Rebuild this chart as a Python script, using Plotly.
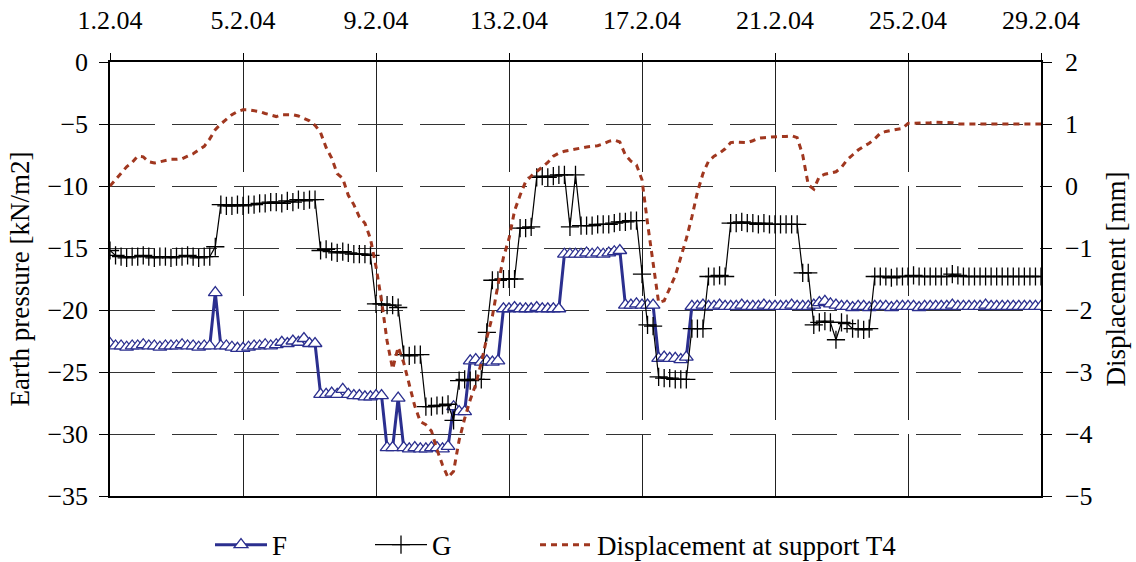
import pandas as pd
import plotly.graph_objects as go

# 4-hourly readings, 1.2.2004 00:00 ... 29.2.2004 00:00
times = pd.date_range("2004-02-01", periods=169, freq="4h")

tick_dates = ["2004-02-01", "2004-02-05", "2004-02-09", "2004-02-13",
              "2004-02-17", "2004-02-21", "2004-02-25", "2004-02-29"]
tick_labels = ["1.2.04", "5.2.04", "9.2.04", "13.2.04",
               "17.2.04", "21.2.04", "25.2.04", "29.2.04"]

F = [-22.7, -22.9, -22.9, -23.0, -22.9, -22.9, -22.8, -22.9, -22.9, -23.0,
     -22.9, -22.9, -22.9, -22.8, -22.9, -22.9, -23.0, -22.9, -22.9, -18.6,
     -22.9, -22.9, -23.0, -23.1, -23.1, -23.0, -22.9, -22.9, -22.8, -22.9,
     -22.8, -22.6, -22.7, -22.5, -22.6, -22.3, -22.7, -22.7,
     -26.8, -26.8, -26.7, -26.8, -26.4, -26.8, -26.9, -26.9, -27.0, -27.0,
     -26.9, -26.9,
     -31.1, -31.1, -27.1,
     -31.1, -31.2, -31.1, -31.2, -31.2, -31.1, -31.1, -31.2, -31.0,
     -27.8, -28.2, -28.2,
     -24.1, -24.0, -24.2, -24.1, -24.2, -24.1,
     -19.9, -19.9, -19.8, -19.9, -19.9, -19.9, -19.8, -19.9, -19.9, -19.9, -19.9,
     -15.5, -15.5, -15.5, -15.5, -15.4, -15.5, -15.4, -15.5, -15.4, -15.3, -15.2,
     -19.6, -19.6, -19.5, -19.6, -19.6, -19.6,
     -23.9, -23.8, -23.9, -23.9, -24.0, -23.8,
     -19.7, -19.7, -19.6, -19.7, -19.7, -19.6, -19.7, -19.7, -19.7, -19.6,
     -19.7, -19.7, -19.7, -19.6, -19.7, -19.7, -19.7, -19.7, -19.6, -19.7,
     -19.7, -19.7, -19.6, -19.4, -19.3, -19.5, -19.6, -19.7, -19.7, -19.8,
     -19.7, -19.7, -19.8, -19.7, -19.7, -19.7, -19.8, -19.7, -19.7, -19.7,
     -19.7, -19.8, -19.7, -19.7, -19.7, -19.7, -19.7, -19.6, -19.7, -19.7,
     -19.7, -19.7, -19.7, -19.6, -19.7, -19.7, -19.7, -19.7, -19.7, -19.7,
     -19.7, -19.7, -19.7, -19.7]

G = [-15.2, -15.6, -15.7, -15.8, -15.7, -15.7, -15.6, -15.7, -15.8, -15.7,
     -15.7, -15.8, -15.7, -15.7, -15.6, -15.7, -15.8, -15.7, -15.7, -14.9,
     -11.5, -11.6, -11.6, -11.5, -11.6, -11.5, -11.5, -11.4, -11.4, -11.3,
     -11.3, -11.4, -11.2, -11.3, -11.1, -11.2, -11.1, -11.1,
     -15.2, -15.1, -15.3, -15.4, -15.3, -15.4, -15.5, -15.5, -15.5, -15.6,
     -19.5, -19.5, -19.6, -19.6, -19.8,
     -23.6, -23.7, -23.6, -23.6,
     -27.8, -27.8, -27.7, -27.7, -27.6,
     -28.9,
     -25.7, -25.6, -25.7, -25.6, -25.6,
     -21.8,
     -17.6, -17.6, -17.5, -17.5, -17.5,
     -13.4, -13.4, -13.3,
     -9.3, -9.2, -9.3, -9.2, -9.1, -9.1,
     -13.3, -9.1,
     -13.2, -13.2, -13.2, -13.1, -13.1, -13.1, -13.0, -12.9, -12.9, -12.8, -12.8,
     -17.1, -21.2, -21.3,
     -25.4, -25.5, -25.5, -25.6, -25.6, -25.6,
     -21.5, -21.5, -21.5,
     -17.3, -17.3, -17.2, -17.3,
     -13.0, -13.0, -12.9, -13.0, -13.0, -13.1, -13.0, -13.1, -13.1, -13.1,
     -13.1, -13.1, -13.1,
     -17.0, -17.0,
     -21.2, -21.0, -20.9, -21.0, -22.4, -21.0, -21.1,
     -21.5, -21.5, -21.6, -21.5,
     -17.3, -17.3, -17.3, -17.4, -17.3, -17.3, -17.3, -17.2, -17.3, -17.3,
     -17.3, -17.3, -17.3, -17.3, -17.1, -17.2, -17.3, -17.3, -17.3, -17.3,
     -17.3, -17.3, -17.3, -17.3, -17.3, -17.3, -17.3, -17.3, -17.3, -17.3,
     -17.3]

D = [0.00, 0.10, 0.20, 0.31, 0.38, 0.48, 0.47, 0.39, 0.37, 0.39,
     0.41, 0.43, 0.43, 0.44, 0.48, 0.52, 0.58, 0.64, 0.76, 0.91,
     1.00, 1.08, 1.15, 1.20, 1.23, 1.23, 1.22, 1.20, 1.17, 1.14,
     1.12, 1.15, 1.15, 1.15, 1.13, 1.09, 1.05, 0.98, 0.86, 0.62,
     0.45, 0.20, 0.12, -0.15, -0.30, -0.50, -0.60, -0.85, -1.30, -1.85,
     -2.50, -2.95, -2.60, -2.85, -3.20, -3.55, -3.80, -3.85, -3.95, -4.25,
     -4.50, -4.70, -4.60, -4.10, -3.75, -3.45, -3.20, -2.85, -2.45, -2.10,
     -1.60, -1.15, -0.85, -0.40, -0.15, 0.07, 0.16, 0.23, 0.30, 0.38,
     0.48, 0.53, 0.56, 0.58, 0.60, 0.61, 0.63, 0.64, 0.65, 0.68,
     0.72, 0.74, 0.71, 0.50, 0.40, 0.34, 0.10, -0.60, -1.20, -1.88,
     -1.85, -1.65, -1.45, -1.15, -0.85, -0.50, -0.10, 0.20, 0.40, 0.48,
     0.53, 0.60, 0.70, 0.71, 0.70, 0.70, 0.73, 0.77, 0.78, 0.79,
     0.79, 0.80, 0.80, 0.81, 0.78, 0.50, 0.02, -0.05, 0.15, 0.19,
     0.21, 0.23, 0.30, 0.42, 0.50, 0.58, 0.64, 0.69, 0.76, 0.85,
     0.88, 0.90, 0.91, 0.93, 1.01, 1.01, 1.01, 1.01, 1.02, 1.03,
     1.03, 1.03, 1.02, 1.00, 1.00, 1.00, 1.00, 1.00, 1.00, 1.00,
     1.00, 1.00, 1.00, 1.00, 1.00, 1.00, 1.00, 1.00, 1.00]

FONT = "Liberation Serif, Times New Roman, serif"
NAVY = "#2B2F8F"
RUST = "#A0371F"

fig = go.Figure()
fig.add_trace(go.Scatter(
    x=times, y=F, name="F", mode="lines+markers", legend="legend",
    line=dict(color=NAVY, width=3),
    marker=dict(symbol="triangle-up", size=12, color="white",
                line=dict(color=NAVY, width=1.3)),
))
fig.add_trace(go.Scatter(
    x=times, y=G, name="G", mode="lines+markers", legend="legend2",
    line=dict(color="black", width=1.2),
    marker=dict(symbol="cross-thin", size=13, color="black",
                line=dict(color="black", width=1.3)),
))
fig.add_trace(go.Scatter(
    x=times, y=D, name="Displacement at support T4", mode="lines",
    yaxis="y2", legend="legend3",
    line=dict(color=RUST, width=3, dash="6px,5px"),
))

leg_common = dict(orientation="h", yref="container", y=0.03, yanchor="middle",
                  xref="container", xanchor="left", itemwidth=52,
                  font=dict(size=27), bgcolor="rgba(0,0,0,0)")

fig.update_layout(
    width=1136, height=562,
    margin=dict(l=110, r=95, t=62, b=66, autoexpand=False),
    paper_bgcolor="white", plot_bgcolor="white",
    font=dict(family=FONT, size=26, color="black"),
    showlegend=True,
    legend=dict(x=210 / 1136, **leg_common),
    legend2=dict(x=370 / 1136, **leg_common),
    legend3=dict(x=535 / 1136, **leg_common),
    xaxis=dict(
        side="top", type="date",
        range=["2004-02-01", "2004-02-29"],
        tickvals=tick_dates, ticktext=tick_labels,
        ticks="outside", ticklen=7, tickcolor="black", ticklabelstandoff=14,
        showline=True, linecolor="black", linewidth=1.5, mirror=True,
        showgrid=True, gridcolor="#222", gridwidth=1.2, griddash="110px,14px",
        zeroline=False, tickfont=dict(size=26),
    ),
    yaxis=dict(
        range=[-35, 0], dtick=5, tick0=0,
        ticks="outside", ticklen=9, tickcolor="black", ticklabelstandoff=6,
        showline=True, linecolor="black", linewidth=1.5,
        showgrid=True, gridcolor="#333", gridwidth=1.2, griddash="45px,17px",
        zeroline=False,
        title=dict(text="Earth pressure [kN/m2]", font=dict(size=27), standoff=10),
        tickfont=dict(size=26),
    ),
    yaxis2=dict(
        range=[-5, 2], dtick=1, tick0=0, overlaying="y", side="right",
        ticks="outside", ticklen=9, tickcolor="black", ticklabelstandoff=8,
        showline=True, linecolor="black", linewidth=1.5,
        showgrid=False, zeroline=False,
        title=dict(text="Displacement [mm]", font=dict(size=27), standoff=14),
        tickfont=dict(size=26),
    ),
)

fig.write_html("out.html")
